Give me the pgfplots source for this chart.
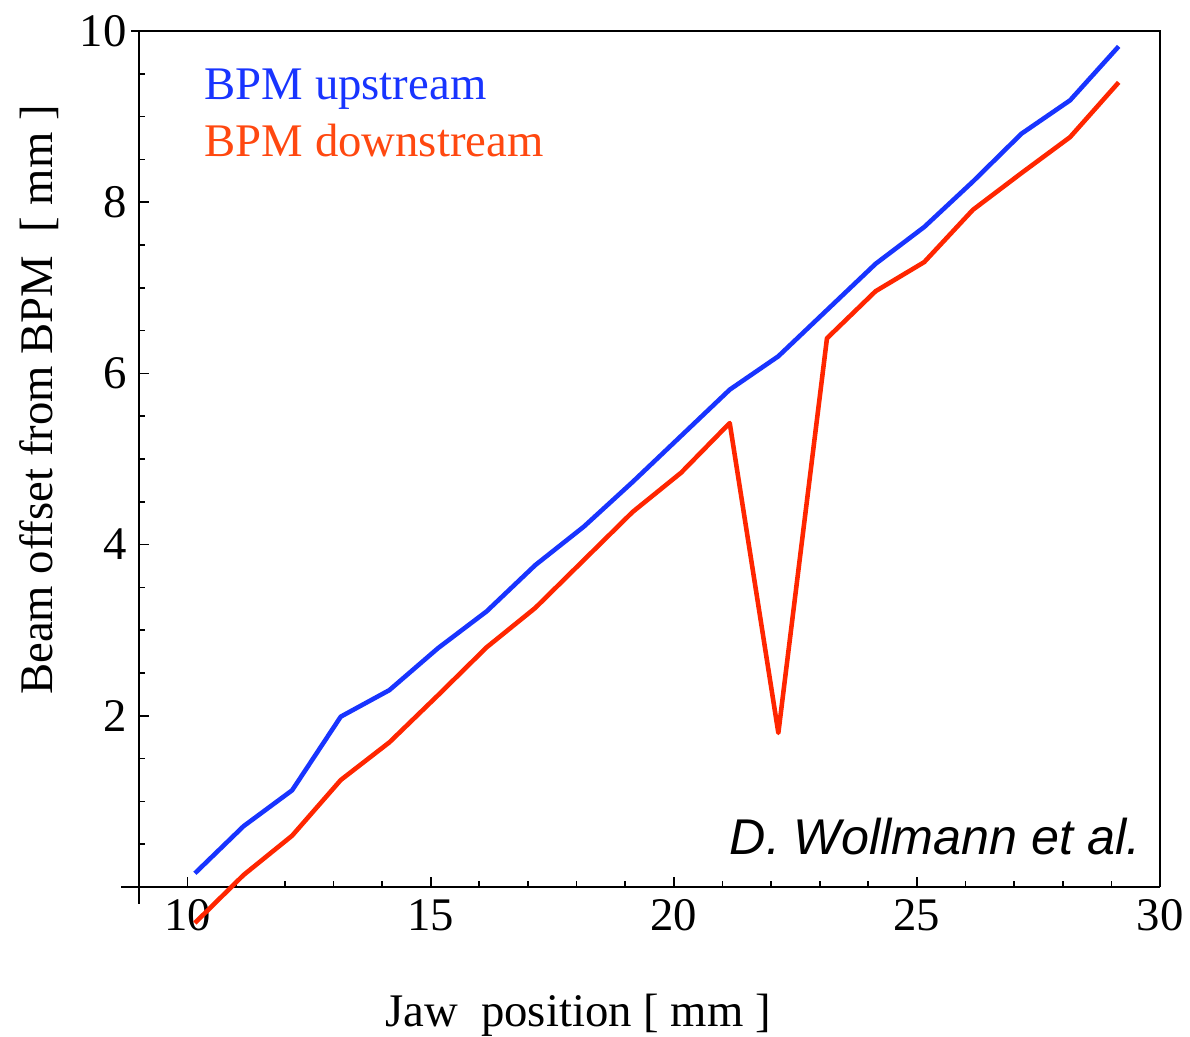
\documentclass[border=0pt]{standalone}
\usepackage{fontspec}
\setmainfont{Liberation Serif}
\newfontfamily\arialfont{Liberation Sans}
\usepackage{pgfplots}
\pgfplotsset{compat=1.18}
\definecolor{bpmblue}{RGB}{24,52,255}
\definecolor{bpmred}{RGB}{255,38,0}
\definecolor{bpmorange}{RGB}{255,72,16}
\begin{document}
\begin{tikzpicture}[x=1cm,y=1cm]
\useasboundingbox (-1.39,-1.50) rectangle (10.51,8.87);
\begin{axis}[
  at={(0,0)}, anchor=south west,
  scale only axis, width=10.21cm, height=8.56cm,
  xmin=9, xmax=30, ymin=0, ymax=10,
  axis lines=left, axis line style={-, line width=0.8pt},
  clip=false,
  tick align=inside,
  xtick={10,15,...,30}, minor x tick num=4,
  ytick={0,2,...,10}, yticklabels={,2,4,6,8,10}, minor y tick num=3,
  major tick length=0.10cm, minor tick length=0.06cm,
  tick style={black, line width=0.5pt},
  ticklabel style={font=\fontsize{13.3}{16}\selectfont},
  /pgf/number format/assume math mode=true,
]
\addplot[bpmblue, line width=1.3pt, line join=round] coordinates {
(10.15,0.16) (11.15,0.71) (12.15,1.13) (13.15,1.99) (14.15,2.30)
(15.15,2.79) (16.15,3.22) (17.15,3.76) (18.15,4.21) (19.15,4.73)
(20.15,5.27) (21.15,5.81) (22.15,6.20) (23.15,6.74) (24.15,7.28)
(25.15,7.71) (26.15,8.24) (27.15,8.80) (28.15,9.19) (29.15,9.82)};
\addplot[bpmred, line width=1.3pt, line join=round] coordinates {
(10.15,-0.42) (11.15,0.14) (12.15,0.60) (13.15,1.25) (14.15,1.69)
(15.15,2.24) (16.15,2.80) (17.15,3.26) (18.15,3.82) (19.15,4.38)
(20.15,4.84) (21.15,5.42) (22.15,1.80) (23.15,6.41) (24.15,6.96)
(25.15,7.30) (26.15,7.91) (27.15,8.34) (28.15,8.76) (29.15,9.40)};
\end{axis}
\draw[line width=0.6pt] (-0.08,8.56) -- (10.21,8.56) -- (10.21,0);
\draw[line width=0.8pt] (0,0) -- (-0.18,0);
\draw[line width=0.8pt] (0,0) -- (0,-0.17);
\node[rotate=90, font=\fontsize{13.3}{16}\selectfont] at (-1.0,4.87) {Beam offset from BPM~~[ mm ]};
\node[font=\fontsize{13.3}{16}\selectfont] at (4.39,-1.28) {Jaw~~position [ mm ]};
\node[anchor=base west, inner sep=0pt, text=bpmblue, font=\fontsize{13.3}{16}\selectfont] at (0.65,7.87) {BPM upstream};
\node[anchor=base west, inner sep=0pt, text=bpmorange, font=\fontsize{13.3}{16}\selectfont] at (0.65,7.30) {BPM downstream};
\node[anchor=base east, inner sep=0pt, font=\arialfont\itshape\fontsize{14.3}{17}\selectfont] at (10.02,0.32) {D. Wollmann et al.};
\end{tikzpicture}
\end{document}
